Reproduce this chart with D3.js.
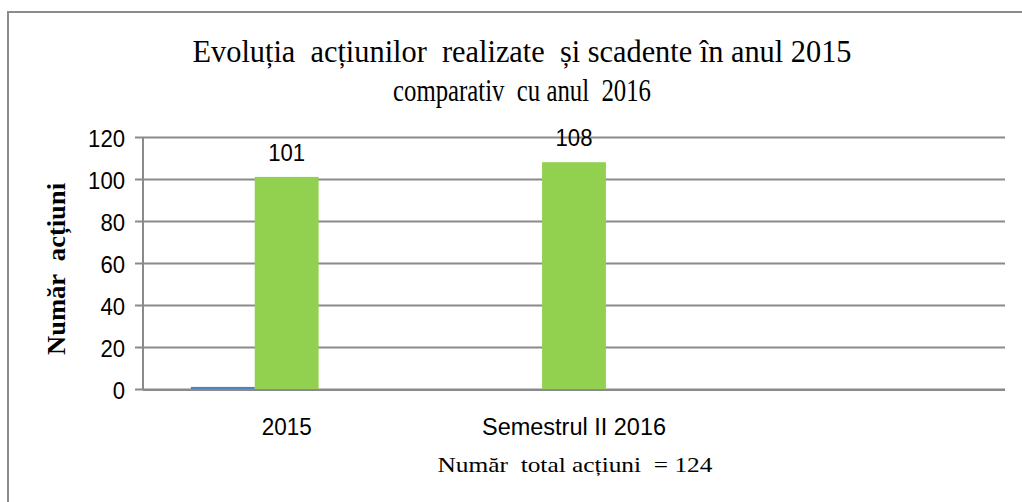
<!DOCTYPE html>
<html>
<head>
<meta charset="utf-8">
<script src="https://d3js.org/d3.v7.min.js"></script>
<style>
  body { margin: 0; background: #fff; }
  text { white-space: pre; }
</style>
</head>
<body>
<div id="chart"></div>
<script>
// chart data
var categories = ["2015", "Semestrul II 2016", ""];
var seriesNames = ["Realizate", "Scadente", "Restante"];
var seriesBlue = [1, 0, 0];
var seriesGreen = [101, 108, 0];
var seriesThird = [0, 0, 0];
var yTicks = [0, 20, 40, 60, 80, 100, 120];
var titleLines = ["Evoluția  acțiunilor  realizate  și scadente în anul 2015", "comparativ  cu anul  2016"];
var yLabel = "Număr  acțiuni";
var footNote = "Număr  total acțiuni  = 124";

var svgWidth = 1022, svgHeight = 502;
var margin = { top: 137, right: 17, bottom: 113, left: 143 };
var width = svgWidth - margin.left - margin.right;
var height = svgHeight - margin.top - margin.bottom;

var sans = "Liberation Sans, Arial, sans-serif";
var serif = "Liberation Serif, Times New Roman, serif";

var svg = d3.select("#chart").append("svg")
  .attr("width", svgWidth)
  .attr("height", svgHeight);

// outer frame (right and bottom edges fall outside the picture)
svg.append("rect")
  .attr("x", 8).attr("y", 12)
  .attr("width", 1040).attr("height", 520)
  .attr("fill", "none")
  .attr("stroke", "#8c8c8c")
  .attr("stroke-width", 2);

var chartGroup = svg.append("g")
  .attr("transform", `translate(${margin.left}, ${margin.top})`);

var xScale = d3.scaleBand().domain(categories).range([0, width]);
var yScale = d3.scaleLinear().domain([0, 120]).range([height, 0]);

// gridlines + y axis
var yAxis = d3.axisLeft(yScale).tickValues(yTicks).tickSize(-width).tickPadding(18);
var yg = chartGroup.append("g").call(yAxis);
yg.select(".domain").remove();
yg.selectAll(".tick line")
  .attr("x1", -8)
  .attr("stroke", "#8a8a8a")
  .attr("stroke-width", 2);
yg.selectAll(".tick text")
  .attr("font-family", sans)
  .attr("font-size", "23px")
  .attr("fill", "#000")
  .attr("dy", "0.4em")
  .attr("textLength", d => String(d).length * 12.3)
  .attr("lengthAdjust", "spacingAndGlyphs");

chartGroup.append("line")
  .attr("x1", 0).attr("x2", 0)
  .attr("y1", yScale(120)).attr("y2", yScale(0))
  .attr("stroke", "#8a8a8a").attr("stroke-width", 2);

// x axis
chartGroup.append("line")
  .attr("x1", 0).attr("x2", width)
  .attr("y1", yScale(0) + 1).attr("y2", yScale(0) + 1)
  .attr("stroke", "#8a8a8a").attr("stroke-width", 2);

// bars
var allSeries = [
  { name: seriesNames[0], values: seriesBlue, color: "#4f81bd" },
  { name: seriesNames[1], values: seriesGreen, color: "#92d050" },
  { name: seriesNames[2], values: seriesThird, color: "#c0504d" }
];
var inner = d3.scaleBand().domain(d3.range(allSeries.length))
  .range([0, xScale.bandwidth()]).paddingOuter(0.75);

allSeries.forEach(function(s, si) {
  chartGroup.selectAll(".bar" + si)
    .data(s.values.map((v, i) => ({ v: v, c: categories[i] })).filter(d => d.v > 0))
    .enter()
    .append("rect")
    .attr("x", d => xScale(d.c) + inner(si))
    .attr("width", inner.bandwidth())
    .attr("y", d => yScale(d.v))
    .attr("height", d => yScale(0) - yScale(d.v))
    .attr("fill", s.color);
});

// data labels for green series
chartGroup.selectAll(".lbl")
  .data(seriesGreen.map((v, i) => ({ v: v, c: categories[i] })).filter(d => d.v > 0))
  .enter()
  .append("text")
  .attr("x", d => xScale(d.c) + inner(1) + inner.bandwidth() / 2)
  .attr("y", d => yScale(d.v) - 16)
  .attr("text-anchor", "middle")
  .attr("font-family", sans)
  .attr("font-size", "23px")
  .attr("textLength", d => String(d.v).length * 12.3)
  .attr("lengthAdjust", "spacingAndGlyphs")
  .text(d => d.v);

chartGroup.selectAll(".cat")
  .data(categories.filter(d => d !== ""))
  .enter()
  .append("text")
  .attr("x", d => xScale(d) + xScale.bandwidth() / 2)
  .attr("y", height + 46)
  .attr("text-anchor", "middle")
  .attr("font-family", sans)
  .attr("font-size", "23px")
  .attr("textLength", (d, i) => i === 0 ? 50 : 184)
  .attr("lengthAdjust", "spacingAndGlyphs")
  .text(d => d);

// title
svg.selectAll(".title")
  .data(titleLines)
  .enter()
  .append("text")
  .attr("x", 522)
  .attr("y", (d, i) => i === 0 ? 62 : 101)
  .attr("text-anchor", "middle")
  .attr("font-family", serif)
  .attr("font-size", "32px")
  .attr("textLength", (d, i) => i === 0 ? 659 : 258)
  .attr("lengthAdjust", "spacingAndGlyphs")
  .text(d => d);

// y axis label
svg.append("text")
  .attr("transform", "translate(65, 269) rotate(-90)")
  .attr("text-anchor", "middle")
  .attr("font-family", serif)
  .attr("font-weight", "bold")
  .attr("font-size", "26px")
  .attr("textLength", 172)
  .attr("lengthAdjust", "spacingAndGlyphs")
  .text(yLabel);

// footnote
svg.append("text")
  .attr("x", 575)
  .attr("y", 472)
  .attr("text-anchor", "middle")
  .attr("font-family", serif)
  .attr("font-size", "21px")
  .attr("textLength", 275)
  .attr("lengthAdjust", "spacingAndGlyphs")
  .text(footNote);
</script>
</body>
</html>
